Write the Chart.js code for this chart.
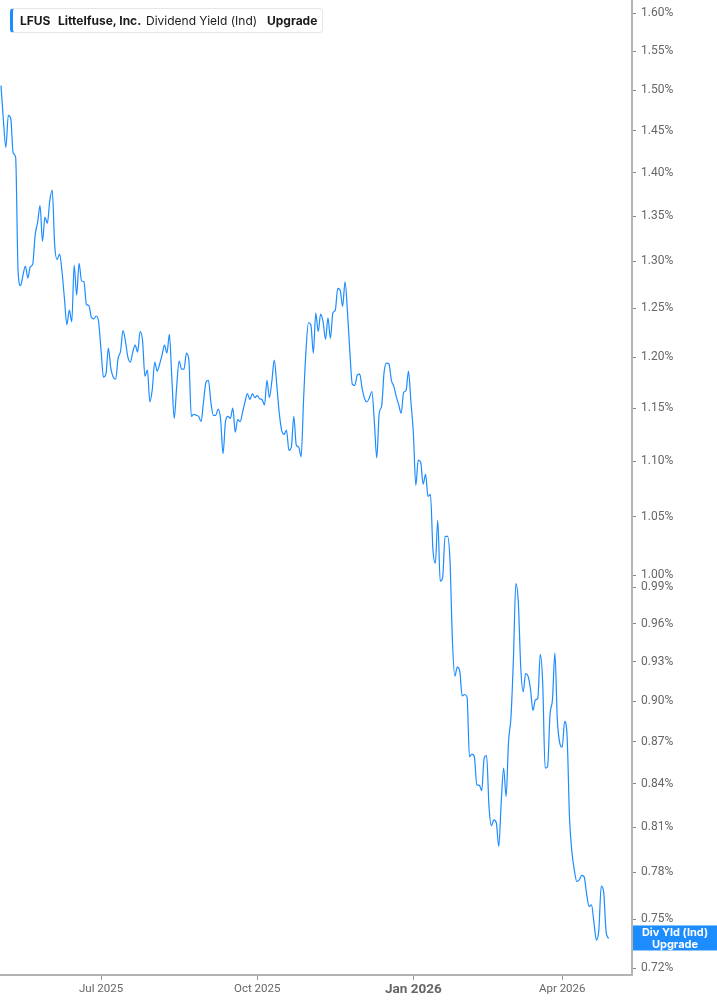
<!DOCTYPE html>
<html>
<head>
<meta charset="utf-8">
<script src="https://cdn.jsdelivr.net/npm/chart.js@4.4.1/dist/chart.umd.min.js"></script>
<style>
  body { margin: 0; background: #fff; }
  #wrap { position: relative; width: 717px; height: 1005px; }
  #legend {
    position: absolute; left: 10px; top: 8px; width: 309px; height: 23px;
    border: 1px solid #e6e6e6; border-left: 3px solid #1c8cff; border-radius: 4px;
    background: #fff; font-family: Inter, "Noto Sans", sans-serif; font-size: 12px;
    color: #1a1a1a; line-height: 23px;
  }
  #legend span { position: absolute; top: 0; white-space: nowrap; }
  #legend .b { font-weight: 700; }
</style>
</head>
<body>
<div id="wrap">
  <canvas id="diagramm"></canvas>
  <div id="legend">
    <span class="b" style="left:7px">LFUS</span>
    <span class="b" style="left:45px">Littelfuse, Inc.</span>
    <span style="left:133px">Dividend Yield (Ind)</span>
    <span class="b" style="left:254px">Upgrade</span>
  </div>
</div>
<script>
// trading days start 2025-05-01, US market holidays skipped
const startDate = "2025-05-01";
const holidays = ["2025-05-26", "2025-06-19", "2025-07-04", "2025-09-01", "2025-11-27",
  "2025-12-25", "2026-01-01", "2026-01-19", "2026-02-16", "2026-04-03"];

// dividend yield (%), one value per trading day
const yieldValues = [
  1.506, 1.462, 1.430, 1.469, 1.465, 1.423, 1.418, 1.289, 1.274, 1.285,
  1.295, 1.282, 1.294, 1.297, 1.329, 1.343, 1.362, 1.322, 1.349, 1.342,
  1.368, 1.380, 1.318, 1.302, 1.308, 1.289, 1.260, 1.233, 1.248, 1.236,
  1.296, 1.264, 1.298, 1.279, 1.278, 1.254, 1.253, 1.241, 1.239, 1.242,
  1.236, 1.207, 1.180, 1.183, 1.209, 1.189, 1.180, 1.178, 1.199, 1.206,
  1.227, 1.216, 1.200, 1.195, 1.205, 1.212, 1.205, 1.226, 1.217, 1.181,
  1.187, 1.156, 1.168, 1.195, 1.186, 1.193, 1.202, 1.212, 1.204, 1.223,
  1.180, 1.140, 1.171, 1.196, 1.188, 1.188, 1.204, 1.197, 1.142, 1.144,
  1.143, 1.142, 1.137, 1.156, 1.175, 1.177, 1.156, 1.143, 1.143, 1.149,
  1.139, 1.107, 1.137, 1.142, 1.140, 1.150, 1.127, 1.139, 1.137, 1.146,
  1.156, 1.164, 1.158, 1.164, 1.160, 1.162, 1.159, 1.158, 1.153, 1.177,
  1.160, 1.176, 1.197, 1.173, 1.146, 1.129, 1.125, 1.129, 1.110, 1.113,
  1.142, 1.115, 1.113, 1.104, 1.158, 1.207, 1.235, 1.233, 1.204, 1.245,
  1.226, 1.244, 1.236, 1.218, 1.240, 1.219, 1.245, 1.248, 1.271, 1.269,
  1.252, 1.278, 1.246, 1.204, 1.173, 1.172, 1.182, 1.183, 1.169, 1.159,
  1.156, 1.160, 1.166, 1.137, 1.103, 1.145, 1.152, 1.185, 1.194, 1.193,
  1.177, 1.171, 1.161, 1.153, 1.145, 1.165, 1.167, 1.186, 1.156, 1.126,
  1.078, 1.101, 1.099, 1.079, 1.088, 1.068, 1.070, 1.022, 1.010, 1.047,
  0.995, 0.998, 1.033, 1.033, 1.013, 0.947, 0.919, 0.926, 0.923, 0.904,
  0.905, 0.903, 0.859, 0.861, 0.859, 0.839, 0.839, 0.835, 0.858, 0.860,
  0.824, 0.811, 0.815, 0.813, 0.797, 0.827, 0.851, 0.831, 0.870, 0.888,
  0.932, 0.993, 0.978, 0.926, 0.907, 0.921, 0.919, 0.909, 0.893, 0.901,
  0.902, 0.936, 0.914, 0.851, 0.852, 0.890, 0.901, 0.937, 0.886, 0.869,
  0.866, 0.885, 0.874, 0.816, 0.793, 0.781, 0.774, 0.775, 0.778, 0.777,
  0.766, 0.758, 0.759, 0.748, 0.737, 0.743, 0.771, 0.767, 0.742, 0.738
];

const xTickMonths = ["2025-07", "2025-10", "2026-01", "2026-04"];
const xTickLabels = ["Jul 2025", "Oct 2025", "Jan 2026", "Apr 2026"];
const yTickValues = [0.72, 0.75, 0.78, 0.81, 0.84, 0.87, 0.90, 0.93, 0.96, 0.99, 1.00,
  1.05, 1.10, 1.15, 1.20, 1.25, 1.30, 1.35, 1.40, 1.45, 1.50, 1.55, 1.60];
const yMin = 0.7158;
const yMax = 1.6176;

function tradingDays(start, count) {
  const out = [];
  const d = new Date(start + "T00:00:00Z");
  while (out.length < count) {
    const iso = d.toISOString().slice(0, 10);
    const wd = d.getUTCDay();
    if (wd !== 0 && wd !== 6 && !holidays.includes(iso)) out.push(iso);
    d.setUTCDate(d.getUTCDate() + 1);
  }
  return out;
}

const dates = tradingDays(startDate, yieldValues.length);
const points = yieldValues.map((v, i) => ({ x: i, y: v, date: dates[i] }));
const xTickIdx = xTickMonths.map((m) => dates.findIndex((d) => d.startsWith(m)));

const lastLabel = {
  id: "lastLabel",
  afterDraw(chart) {
    const ctx = chart.ctx;
    const y = chart.scales.y.getPixelForValue(yieldValues[yieldValues.length - 1]);
    const x0 = chart.chartArea.right + 1;
    ctx.save();
    ctx.fillStyle = "#1c8cff";
    ctx.fillRect(x0, y - 13, chart.width - x0, 25);
    ctx.fillStyle = "#fff";
    ctx.font = "bold 11px Inter, sans-serif";
    ctx.textAlign = "center";
    ctx.textBaseline = "middle";
    const cx = x0 + (chart.width - x0) / 2;
    ctx.fillText("Div Yld (Ind)", cx, y - 6);
    ctx.fillText("Upgrade", cx, y + 6);
    ctx.restore();
  },
};

const ctx = document.getElementById("diagramm").getContext("2d");
new Chart(ctx, {
  type: "line",
  data: {
    datasets: [
      {
        label: "Dividend Yield (Ind)",
        data: points,
        borderColor: "#1c8cff",
        borderWidth: 1.2,
        pointRadius: 0,
        cubicInterpolationMode: "monotone",
        fill: false,
      },
    ],
  },
  options: {
    responsive: true,
    maintainAspectRatio: false,
    animation: false,
    layout: { padding: 0 },
    plugins: { legend: { display: false }, tooltip: { enabled: false } },
    scales: {
      x: {
        type: "linear",
        min: -0.41,
        max: 258.6,
        afterBuildTicks: (scale) => {
          scale.ticks = xTickIdx.map((v) => ({ value: v }));
        },
        afterFit: (scale) => {
          scale.height = 30;
          scale.paddingLeft = 0;
          scale.paddingRight = 0;
        },
        grid: { drawOnChartArea: false, drawTicks: true, tickLength: 5, color: "#9a9a9a" },
        border: { display: true, color: "#b3b3b3", width: 2 },
        ticks: {
          padding: 2,
          maxRotation: 0,
          autoSkip: false,
          color: "#666",
          callback: (v) => xTickLabels[xTickIdx.indexOf(v)],
          font: (c) =>
            c.tick && c.tick.label === "Jan 2026"
              ? { family: "Roboto", size: 13.5, weight: "bold" }
              : { family: "Roboto", size: 11.5 },
        },
      },
      y: {
        type: "logarithmic",
        position: "right",
        min: yMin,
        max: yMax,
        afterBuildTicks: (scale) => {
          scale.min = yMin;
          scale.max = yMax;
          scale.ticks = yTickValues.map((v) => ({ value: v }));
        },
        afterFit: (scale) => {
          scale.width = 85;
          scale.paddingTop = 0;
          scale.paddingBottom = 0;
        },
        grid: { drawOnChartArea: false, drawTicks: true, tickLength: 4, color: "#888" },
        border: { display: true, color: "#b3b3b3", width: 2 },
        ticks: {
          padding: 5,
          autoSkip: false,
          color: "#666",
          font: { family: "Roboto", size: 12 },
          callback: (v) => v.toFixed(2) + "%",
        },
      },
    },
  },
  plugins: [lastLabel],
});
</script>
</body>
</html>
